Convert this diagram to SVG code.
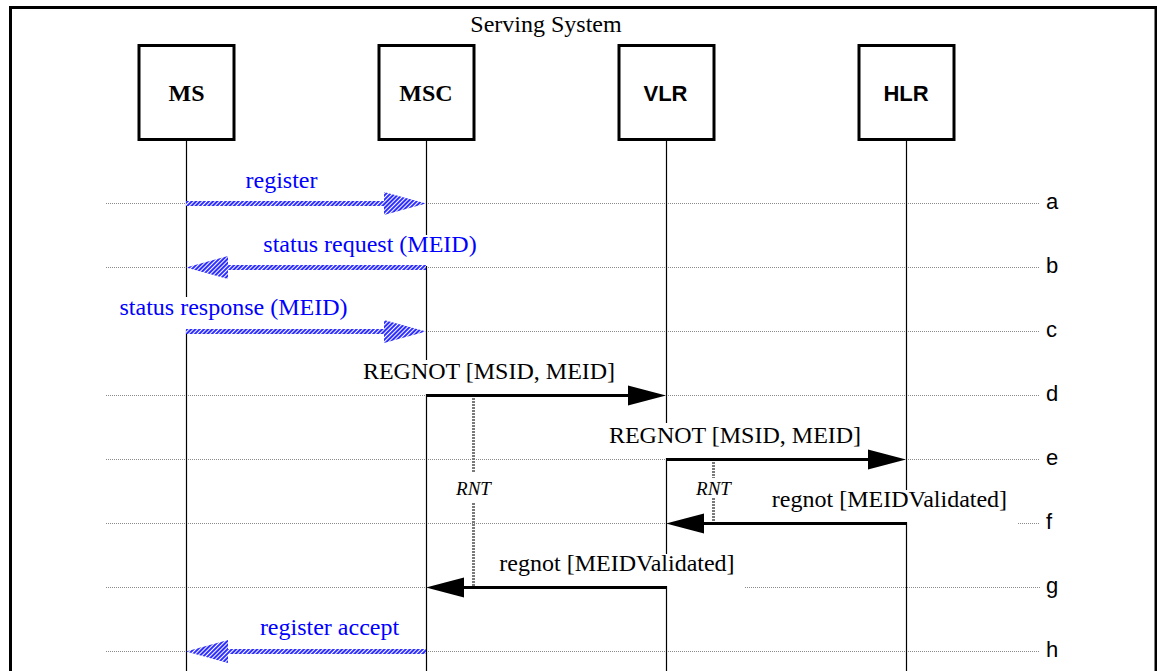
<svg xmlns="http://www.w3.org/2000/svg" width="1157" height="671" viewBox="0 0 1157 671">
<defs>
<pattern id="hatch" patternUnits="userSpaceOnUse" width="3" height="3" patternTransform="rotate(45)">
<rect width="3" height="3" fill="#2f2fff"/>
<rect width="1" height="3" fill="#ffffff"/>
</pattern>
</defs>
<style>
.frame{fill:none;stroke:#000;stroke-width:3}
.box{fill:#fff;stroke:#000;stroke-width:3}
.life{stroke:#000;stroke-width:1.2;fill:none}
.row{stroke:#8a8a8a;stroke-width:1;stroke-dasharray:1 1;fill:none}
.serif{font-family:"Liberation Serif","Times New Roman",serif}
.sans{font-family:"Liberation Sans",Arial,sans-serif}
.ttl{font-size:24px;text-anchor:middle;fill:#000}
.nbs{font-weight:bold;font-size:24px;text-anchor:middle;fill:#000}
.nba{font-weight:bold;font-size:22px;text-anchor:middle;fill:#000}
.msg{font-size:24px;text-anchor:middle;fill:#000}
.bmsg{font-size:24px;text-anchor:middle;fill:#0000ff}
.letter{font-size:22px;fill:#000}
.rnt{font-style:italic;font-size:19px;text-anchor:middle;fill:#000}
.timer{stroke:#7a7a7a;stroke-width:3;stroke-dasharray:2 1;fill:none}
.shaft{stroke:#000;stroke-width:3;fill:none}
.head{fill:#000}
.harrow{fill:url(#hatch)}
</style>
<path class="frame" d="M10.5,671 V7.5 H1156 V671"/>
<text class="serif ttl" x="546" y="32">Serving System</text>
<g id="rows">
<path class="row" d="M106,203.5 H1040 M106,267.5 H1040 M186,331.5 H1040 M106,395.5 H1040 M106,459.5 H1040 M106,523.5 H906 M1018,523.5 H1040 M106,587.5 H666 M745,587.5 H1040 M106,651.5 H1040"/>
<text class="sans letter" x="1046" y="209">a</text>
<text class="sans letter" x="1046" y="273">b</text>
<text class="sans letter" x="1046" y="337">c</text>
<text class="sans letter" x="1046" y="401">d</text>
<text class="sans letter" x="1046" y="465">e</text>
<text class="sans letter" x="1046" y="529">f</text>
<text class="sans letter" x="1046" y="593">g</text>
<text class="sans letter" x="1046" y="657">h</text>
</g>
<g id="MS">
<rect class="box" x="139" y="45.5" width="95" height="94"/>
<text class="serif nbs" x="186.5" y="101">MS</text>
<path class="life" d="M186.5,141 V297 M186.5,330 V671"/>
</g>
<g id="MSC">
<rect class="box" x="379" y="45.5" width="95" height="94"/>
<text class="serif nbs" x="426" y="101">MSC</text>
<path class="life" d="M426.5,141 V235 M426.5,266 V360 M426.5,394 V671"/>
</g>
<g id="VLR">
<rect class="box" x="619" y="45.5" width="95" height="94"/>
<text class="sans nba" x="665.5" y="101">VLR</text>
<path class="life" d="M666.5,141 V423 M666.5,458 V554 M666.5,586 V671"/>
</g>
<g id="HLR">
<rect class="box" x="859" y="45.5" width="95" height="94"/>
<text class="sans nba" x="906" y="101">HLR</text>
<path class="life" d="M906.5,141 V490 M906.5,522 V671"/>
</g>
<g id="connectors">
<path class="harrow" d="M186,201 H384 V192 L426,203.5 L384,215 V206 H186 Z"/>
<path class="harrow" d="M426,265 H228 V256 L186,267.5 L228,279 V270 H426 Z"/>
<path class="harrow" d="M186,329 H384 V320 L426,331.5 L384,343 V334 H186 Z"/>
<path class="harrow" d="M426,649 H228 V640 L186,651.5 L228,663 V654 H426 Z"/>
<path class="shaft" d="M426,395.5 H630"/>
<polygon class="head" points="628,385.5 666,395.5 628,405.5"/>
<path class="shaft" d="M666,459.5 H870"/>
<polygon class="head" points="868,449.5 906,459.5 868,469.5"/>
<path class="shaft" d="M906,523.5 H702"/>
<polygon class="head" points="704,513.5 666,523.5 704,533.5"/>
<path class="shaft" d="M666,587.5 H462"/>
<polygon class="head" points="464,577.5 426,587.5 464,597.5"/>
<path class="timer" d="M473.5,398 V473 M473.5,503 V586"/>
<path class="timer" d="M713.5,462 V478 M713.5,498 V522"/>
</g>
<g id="labels">
<text class="serif bmsg" x="281.5" y="188">register</text>
<text class="serif bmsg" x="370" y="252">status request (MEID)</text>
<text class="serif bmsg" x="233.5" y="315">status response (MEID)</text>
<text class="serif msg" x="489" y="379">REGNOT [MSID, MEID]</text>
<text class="serif msg" x="735" y="443">REGNOT [MSID, MEID]</text>
<text class="serif msg" x="889.5" y="507">regnot [MEIDValidated]</text>
<text class="serif msg" x="617" y="571">regnot [MEIDValidated]</text>
<text class="serif bmsg" x="329.5" y="635">register accept</text>
<text class="serif rnt" x="473.5" y="495">RNT</text>
<text class="serif rnt" x="713.5" y="495">RNT</text>
</g>
</svg>
